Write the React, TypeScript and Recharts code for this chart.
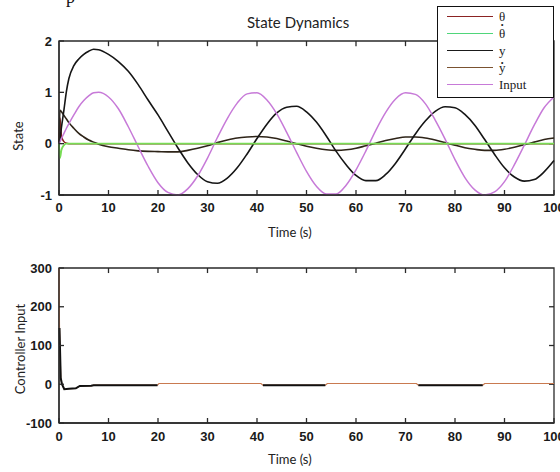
import React from 'react';
import { LineChart, Line, XAxis, YAxis, ReferenceArea, ReferenceLine } from 'recharts';

// top panel: state trajectories (time in s)
const TIME = [0, 0.2, 0.5, 1, 1.5, 2, 3, 4, 5, 6, 7, 8, 10, 12, 14, 16, 18, 20, 22, 24, 26, 28, 30, 32, 34, 36, 38, 40, 42, 44, 46, 48, 50, 52, 54, 56, 58, 60, 62, 64, 66, 68, 70, 72, 74, 76, 78, 80, 82, 84, 86, 88, 90, 92, 94, 96, 98, 100];
const THETA = [0, 0.5, 0.15, 0.04, 0.01, 0, 0, 0, 0, 0, 0, 0, 0, 0, 0, 0, 0, 0, 0, 0, 0, 0, 0, 0, 0, 0, 0, 0, 0, 0, 0, 0, 0, 0, 0, 0, 0, 0, 0, 0, 0, 0, 0, 0, 0, 0, 0, 0, 0, 0, 0, 0, 0, 0, 0, 0, 0, 0];
const THETA_DOT = [0, -0.28, -0.12, -0.03, 0, 0, 0, 0, 0, 0, 0, 0, 0, 0, 0, 0, 0, 0, 0, 0, 0, 0, 0, 0, 0, 0, 0, 0, 0, 0, 0, 0, 0, 0, 0, 0, 0, 0, 0, 0, 0, 0, 0, 0, 0, 0, 0, 0, 0, 0, 0, 0, 0, 0, 0, 0, 0, 0];
const Y_POS = [0, 0.1, 0.32, 0.66, 1.02, 1.27, 1.52, 1.65, 1.74, 1.8, 1.84, 1.83, 1.74, 1.6, 1.41, 1.15, 0.85, 0.56, 0.24, -0.08, -0.37, -0.6, -0.74, -0.77, -0.67, -0.47, -0.2, 0.1, 0.38, 0.6, 0.71, 0.73, 0.62, 0.42, 0.15, -0.15, -0.41, -0.62, -0.72, -0.72, -0.6, -0.38, -0.1, 0.19, 0.44, 0.63, 0.72, 0.7, 0.57, 0.36, 0.08, -0.21, -0.47, -0.65, -0.73, -0.7, -0.55, -0.33];
const Y_DOT = [0, 0.65, 0.62, 0.55, 0.48, 0.41, 0.3, 0.2, 0.13, 0.07, 0.03, -0.01, -0.06, -0.09, -0.12, -0.14, -0.15, -0.155, -0.16, -0.16, -0.13, -0.09, -0.04, 0.02, 0.07, 0.11, 0.13, 0.14, 0.13, 0.1, 0.05, 0, -0.05, -0.09, -0.12, -0.13, -0.12, -0.09, -0.04, 0.01, 0.06, 0.1, 0.13, 0.13, 0.11, 0.07, 0.02, -0.03, -0.08, -0.11, -0.13, -0.13, -0.11, -0.07, -0.02, 0.03, 0.08, 0.11];
const INPUT = [0, 0.04, 0.1, 0.2, 0.3, 0.39, 0.56, 0.72, 0.84, 0.93, 0.99, 1.0, 0.91, 0.68, 0.33, -0.06, -0.44, -0.76, -0.95, -1.0, -0.88, -0.63, -0.28, 0.12, 0.49, 0.79, 0.97, 0.99, 0.85, 0.58, 0.22, -0.17, -0.54, -0.83, -0.98, -0.98, -0.81, -0.51, -0.14, 0.26, 0.61, 0.87, 0.99, 0.96, 0.78, 0.46, 0.09, -0.31, -0.66, -0.9, -1.0, -0.94, -0.74, -0.41, -0.03, 0.36, 0.7, 0.91];

// bottom panel: controller effort
const CTRL_TIME = [0, 0.1, 0.35, 0.6, 1.07, 2, 3.4, 4.2, 6.5, 7, 10, 15, 19.9, 20.2, 25, 30, 35, 40.8, 41.2, 45, 50, 53.8, 54.2, 60, 65, 72.2, 72.6, 80, 85.6, 86, 90, 95, 100];
const CTRL_A = [300, 145, 16, 0, -13, -11.5, -10.5, -4.5, -4, -2.5, -2.5, -2.5, -2.5, 2, 2, 2, 2, 2, -2.5, -2.5, -2.5, -2.5, 2, 2, 2, 2, -2.5, -2.5, -2.5, 2, 2, 2, 2];
const CTRL_B = [null, 145, 16, 0, -13, -11.5, -10.5, -4.5, -4, -2.5, -2.5, -2.5, -2.5, null, null, null, null, null, -2.5, -2.5, -2.5, -2.5, null, null, null, null, -2.5, -2.5, -2.5, null, null, null, null];

const X_TICKS = [0, 10, 20, 30, 40, 50, 60, 70, 80, 90, 100];
const STATE_TICKS = [-1, 0, 1, 2];
const CTRL_TICKS = [-100, 0, 100, 200, 300];

const LEGEND = [
  { name: 'θ', dot: 0, color: '#8b2323' },
  { name: 'θ', dot: -5, color: '#4fd67a' },
  { name: 'y', dot: 0, color: '#1a1a1a' },
  { name: 'y', dot: -1, color: '#7a5230' },
  { name: 'Input', dot: 0, color: '#c77ad8' },
];

const stateRows = TIME.map((t, i) => ({
  t,
  theta: THETA[i],
  thetaDot: THETA_DOT[i],
  y: Y_POS[i],
  yDot: Y_DOT[i],
  input: INPUT[i],
}));

const ctrlRows = CTRL_TIME.map((t, i) => ({ t, a: CTRL_A[i], b: CTRL_B[i] }));

const frame = '#2a2a2a';
const tickFont = { fontSize: 13, fontWeight: 700, fill: '#1a1a1a', fontFamily: '"Liberation Sans", Arial, sans-serif' };
const titleFont: React.CSSProperties = { fontFamily: 'Lato, "Open Sans", sans-serif', color: '#222', position: 'absolute', whiteSpace: 'nowrap' };

// closed box with inward ticks on the top and right edges
// (tick length given in data units so it is ~5px on screen)
const boxFrame = (y0: number, y1: number, yTicks: number[], dy: number) => [
  <ReferenceArea key="box" x1={0} x2={100} y1={y0} y2={y1} fill="none" fillOpacity={0} stroke={frame} strokeWidth={1.3} strokeOpacity={1} />,
  ...X_TICKS.slice(1, -1).map((x) => (
    <ReferenceLine key={`tx${x}`} segment={[{ x, y: y1 }, { x, y: y1 - dy }]} stroke={frame} strokeWidth={1.3} />
  )),
  ...yTicks.slice(1, -1).map((y) => (
    <ReferenceLine key={`ry${y}`} segment={[{ x: 100, y }, { x: 99, y }]} stroke={frame} strokeWidth={1.3} />
  )),
];

export default function App() {
  return (
    <div style={{ position: 'absolute', left: 0, top: 0, width: 560, height: 472, background: '#fff', overflow: 'hidden' }}>
      <div style={{ position: 'absolute', left: 66, top: -13, fontFamily: '"Liberation Serif", serif', fontSize: 18, color: '#111' }}>p</div>

      {/* State Dynamics */}
      <div style={{ position: 'absolute', left: 0, top: 0 }}>
        <LineChart width={560} height={245} data={stateRows} margin={{ top: 41, right: 6, bottom: 0, left: 0 }}>
          <XAxis dataKey="t" type="number" domain={[0, 100]} ticks={X_TICKS} interval={0} height={50}
            stroke={frame} strokeWidth={1.3} tickSize={-5} tickMargin={13} tick={tickFont} />
          <YAxis type="number" domain={[-1, 2]} ticks={STATE_TICKS} interval={0} width={59}
            stroke={frame} strokeWidth={1.3} tickSize={-5} tickMargin={12} tick={tickFont} />
          {boxFrame(-1, 2, STATE_TICKS, 0.1)}
          <Line dataKey="theta" type="monotone" stroke="#8b2323" strokeWidth={1.5} dot={false} isAnimationActive={false} />
          <Line dataKey="yDot" type="monotone" stroke="#2e2418" strokeWidth={1.6} dot={false} isAnimationActive={false} />
          <Line dataKey="y" type="monotone" stroke="#151515" strokeWidth={1.6} dot={false} isAnimationActive={false} />
          <Line dataKey="input" type="monotone" stroke="#c77ad8" strokeWidth={1.5} dot={false} isAnimationActive={false} />
          <Line dataKey="thetaDot" type="monotone" stroke="#78dc55" strokeWidth={1.8} dot={false} isAnimationActive={false} />
        </LineChart>
      </div>
      <div style={{ ...titleFont, left: 247, top: 13, fontSize: 15 }}>State Dynamics</div>
      <div style={{ ...titleFont, left: 268, top: 224, fontSize: 13 }}>Time (s)</div>
      <div style={{ ...titleFont, left: 18, top: 136, fontSize: 13, transform: 'translate(-50%, -50%) rotate(-90deg)' }}>State</div>

      {/* legend */}
      <div style={{ position: 'absolute', left: 437, top: 6, width: 117, height: 92, boxSizing: 'border-box', border: '1.5px solid #111', background: '#fff', paddingTop: 1 }}>
        {LEGEND.map((s, i) => (
          <div key={i} style={{ display: 'flex', alignItems: 'center', height: 17 }}>
            <div style={{ marginLeft: 9, width: 46, height: 0, borderTop: `1.5px solid ${s.color}` }} />
            <span style={{ position: 'relative', marginLeft: 6, fontFamily: '"Liberation Serif", serif', fontSize: 13, color: '#222' }}>
              {s.name}
              {s.dot !== 0 && <span style={{ position: 'absolute', left: 0, right: 0, top: s.dot, textAlign: 'center', fontWeight: 700 }}>˙</span>}
            </span>
          </div>
        ))}
      </div>

      {/* Controller Input */}
      <div style={{ position: 'absolute', left: 0, top: 245 }}>
        <LineChart width={560} height={227} data={ctrlRows} margin={{ top: 23, right: 6, bottom: 0, left: 0 }}>
          <XAxis dataKey="t" type="number" domain={[0, 100]} ticks={X_TICKS} interval={0} height={49}
            stroke={frame} strokeWidth={1.3} tickSize={-5} tickMargin={14} tick={tickFont} />
          <YAxis type="number" domain={[-100, 300]} ticks={CTRL_TICKS} interval={0} width={59}
            stroke={frame} strokeWidth={1.3} tickSize={-5} tickMargin={12} tick={tickFont} />
          {boxFrame(-100, 300, CTRL_TICKS, 13)}
          <Line dataKey="a" type="linear" stroke="#c97a50" strokeWidth={1.2} dot={false} isAnimationActive={false} />
          <Line dataKey="b" type="linear" stroke="#111" strokeWidth={2} dot={false} connectNulls={false} isAnimationActive={false} />
        </LineChart>
      </div>
      <div style={{ ...titleFont, left: 268, top: 451, fontSize: 13 }}>Time (s)</div>
      <div style={{ ...titleFont, left: 20, top: 349, fontSize: 13, transform: 'translate(-50%, -50%) rotate(-90deg)' }}>Controller Input</div>
    </div>
  );
}
